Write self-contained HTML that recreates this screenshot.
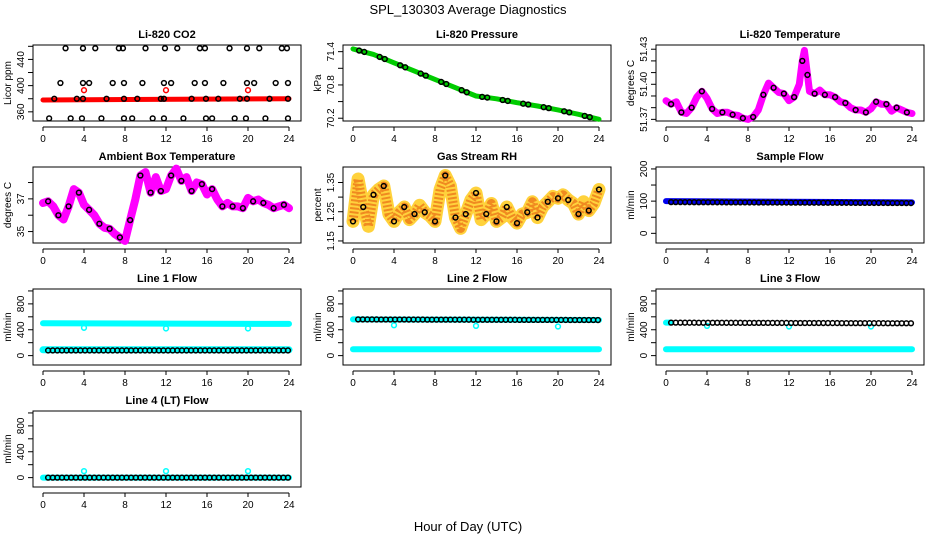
<!DOCTYPE html>
<html><head><meta charset="utf-8"><style>
body{margin:0;background:#fff}
svg{display:block;font-family:"Liberation Sans",sans-serif}
</style></head><body>
<svg id="c" width="936" height="540" viewBox="0 0 936 540">
<text x="468" y="14" text-anchor="middle" font-size="13">SPL_130303  Average Diagnostics</text>
<text x="468" y="531" text-anchor="middle" font-size="13">Hour of Day (UTC)</text>
</svg>
<script>
// ---- data ----
const xTicks=[0,4,8,12,16,20,24];
const co2Hi=[2.2,3.9,5.1,7.4,7.8,10.0,11.9,13.1,15.3,15.8,18.2,19.9,21.1,23.3,23.8];
const co2Mid=[1.7,3.9,4.5,6.8,7.9,9.7,11.8,12.5,14.8,15.8,17.6,19.9,20.6,22.7,23.9];
const co2Low=[1.1,3.3,3.9,6.2,7.9,9.2,11.5,11.8,14.5,15.9,17.1,19.2,19.9,22.1,23.9];
const co2Bot=[0.6,2.7,3.8,5.7,7.9,8.7,10.7,11.8,13.7,15.9,16.5,18.7,19.8,21.7,23.9];
const co2Levels=[457,404,380,350];
const co2RedHours=[0,24];
const co2RedVals=[378,380];
const calHours=[4,12,20];
const co2Cal=[393,393,393];
const presHours=[0,2,4,6,8,10,12,14,16,18,20,22,24];
const presVals=[71.45,71.35,71.2,71.05,70.9,70.75,70.6,70.55,70.48,70.42,70.35,70.27,70.18];
const tempHours=[0,0.5,1,1.5,2,2.5,3,3.5,4,4.5,5,5.5,6,6.5,7,7.5,8,8.5,9,9.5,10,10.5,11,11.5,12,12.5,13,13.3,13.5,13.8,14,14.5,15,15.5,16,16.5,17,17.5,18,18.5,19,19.5,20,20.5,21,21.5,22,22.5,23,23.5,24];
const tempVals=[51.386,51.383,51.385,51.376,51.375,51.38,51.389,51.394,51.388,51.379,51.375,51.376,51.376,51.374,51.3735,51.371,51.37,51.372,51.378,51.391,51.401,51.397,51.393,51.392,51.386,51.389,51.4,51.42,51.429,51.408,51.394,51.392,51.395,51.391,51.391,51.389,51.385,51.384,51.38,51.378,51.378,51.376,51.379,51.385,51.383,51.383,51.377,51.38,51.378,51.376,51.375];
const halfHours=[0,0.5,1,1.5,2,2.5,3,3.5,4,4.5,5,5.5,6,6.5,7,7.5,8,8.5,9,9.5,10,10.5,11,11.5,12,12.5,13,13.5,14,14.5,15,15.5,16,16.5,17,17.5,18,18.5,19,19.5,20,20.5,21,21.5,22,22.5,23,23.5,24];
const ambVals=[36.75,36.85,36.54,36.0,35.74,36.54,37.6,37.38,36.64,36.33,36.0,35.48,35.23,35.17,34.85,34.64,34.43,35.7,36.96,38.43,38.64,37.38,38.33,37.48,37.6,38.43,38.85,38.1,38.33,37.48,38.0,37.9,37.27,37.6,36.96,36.54,36.75,36.54,36.54,36.43,37.06,36.85,36.96,36.75,36.64,36.43,36.54,36.64,36.43];
const rhVals=[1.217,1.362,1.266,1.2,1.308,1.326,1.338,1.242,1.217,1.248,1.266,1.223,1.242,1.272,1.248,1.236,1.217,1.326,1.374,1.338,1.23,1.193,1.242,1.29,1.314,1.223,1.242,1.278,1.217,1.23,1.266,1.23,1.211,1.242,1.248,1.284,1.23,1.266,1.284,1.302,1.296,1.308,1.29,1.278,1.242,1.284,1.254,1.278,1.326];
const sampleVals=[100,96];
const line1Hi=[500,490];const line1Lo=[90,90];const line1Black=[80,80];const line1Cal=[430,420,420];
const line2Hi=[560,550];const line2Lo=[100,100];const line2Cal=[470,460,450];
const line3Hi=[510,500];const line3Lo=[100,100];const line3Cal=[460,450,450];
const line4Lo=[0,0];const line4Cal=[100,100,100];

// ---- helpers ----
const NS="http://www.w3.org/2000/svg",svg=document.getElementById('c');
function mk(tag,at,parent){const e=document.createElementNS(NS,tag);for(const k in at)e.setAttribute(k,at[k]);(parent||svg).appendChild(e);return e;}
const colL=[33,343,656],rowT=[45,167,289,411];const W=268,H=76;
function panel(col,row,title,ylab,ymin,ymax,ticks,labels,name){
  const L=colL[col],T=rowT[row];
  const g=mk('g',{});
  
  
  const x0=L+10,x1=L+256;
  const xs=h=>x0+h*(x1-x0)/24, ys=v=>T+H-(v-ymin)/(ymax-ymin)*H;
  const t=mk('text',{x:L+W/2,y:T-7,'text-anchor':'middle','font-size':11,'font-weight':'bold'},g);t.textContent=title;
  
  
  const b=mk('rect',{x:L,y:T,width:W,height:H,fill:'none',stroke:'#000','stroke-width':1},g);
  
  
  const xa=mk('g',{},g);
  
  
  mk('line',{x1:xs(0),x2:xs(24),y1:T+H+6,y2:T+H+6,stroke:'#000'},xa);
  xTicks.forEach(h=>{mk('line',{x1:xs(h),x2:xs(h),y1:T+H+6,y2:T+H+10,stroke:'#000'},xa);
    const tx=mk('text',{x:xs(h),y:T+H+21,'text-anchor':'middle','font-size':10},xa);tx.textContent=h;});
  const ya=mk('g',{},g);
  
  
  ticks.forEach((v,i)=>{const y=ys(v);mk('line',{x1:L-5,x2:L,y1:y,y2:y,stroke:'#000'},ya);
    if(labels[i]!==''){const tx=mk('text',{x:0,y:0,'text-anchor':'middle','font-size':10,transform:`translate(${L-9},${y}) rotate(-90)`},ya);tx.textContent=labels[i];}});
  const yl=mk('text',{x:0,y:0,'text-anchor':'middle','font-size':10,transform:`translate(${L-22},${T+H/2}) rotate(-90)`},g);yl.textContent=ylab;
  
  
  const clip=mk('g',{},g);
  return {g:clip,xs,ys};
}
function band(p,hs,vs,color,w,name,dash){
  const d=hs.map((h,i)=>(i?'L':'M')+p.xs(h).toFixed(1)+','+p.ys(vs[i]).toFixed(1)).join('');
  const at={d,fill:'none',stroke:color,'stroke-width':w,'stroke-linejoin':'round','stroke-linecap':'round'};
  if(dash){at['stroke-dasharray']=dash;at['stroke-linecap']='butt';}
  const e=mk('path',at,p.g);
  
  
}
function pts(p,hs,vs,color,name){
  const gg=mk('g',{},p.g);
  
  
  hs.forEach((h,i)=>mk('circle',{cx:p.xs(h),cy:p.ys(vs[i]),r:2.4,fill:'none',stroke:color,'stroke-width':1.5},gg));
}
function flatPts(p,v0,v1,color,name,step){
  const hs=[],vs=[];for(let h=0.5;h<=23.9;h+=step){hs.push(h);vs.push(v0+(v1-v0)*h/24);}
  pts(p,hs,vs,color,name);
}

// CO2
let p=panel(0,0,'Li-820 CO2','Licor ppm',346,462,[360,380,400,420,440,460],['360','','400','','440',''],'co2');
band(p,co2RedHours,co2RedVals,'#ff0000',5,'co2-red-band');
pts(p,calHours,co2Cal,'#ff0000','co2-red-outliers');
[co2Hi,co2Mid,co2Low,co2Bot].forEach((a,k)=>pts(p,a,a.map(()=>co2Levels[k]),'#000','co2-black-points-'+k));
// Pressure
p=panel(1,0,'Li-820 Pressure','kPa',70.15,71.52,[70.2,70.5,70.8,71.1,71.4],['70.2','','70.8','','71.4'],'pressure');
band(p,presHours,presVals,'#00cc00',5,'pressure-green-band');
pts(p,presHours.slice(0,-1).map(h=>h+0.6),presVals.slice(0,-1).map((v,i)=>v+(presVals[i+1]-v)*0.3),'#000','pressure-points');
pts(p,presHours.slice(1).map(h=>h-0.9),presVals.slice(1).map((v,i)=>v+(presVals[i]-v)*0.45),'#000','pressure-points-2');
// Temperature
p=panel(2,0,'Li-820 Temperature','degrees C',51.3686,51.4336,[51.37,51.38,51.39,51.40,51.41,51.42,51.43],['51.37','','','51.40','','','51.43'],'li820-temp');
band(p,tempHours,tempVals,'#ff00ff',7,'temp-magenta-band');
pts(p,tempHours.filter((h,i)=>i%2==1),tempVals.filter((v,i)=>i%2==1),'#000','temp-points');
// Ambient
p=panel(0,1,'Ambient Box Temperature','degrees C',34.3,38.95,[35,36,37,38],['35','','37',''],'ambient');
band(p,halfHours,ambVals,'#ff00ff',8,'ambient-magenta-band');
pts(p,halfHours.filter((h,i)=>i%2==1),ambVals.filter((v,i)=>i%2==1),'#000','ambient-points');
// RH
p=panel(1,1,'Gas Stream RH','percent',1.143,1.403,[1.15,1.20,1.25,1.30,1.35],['1.15','','1.25','','1.35'],'rh');
band(p,halfHours,rhVals,'#ffd23c',13,'rh-yellow-band');
band(p,halfHours,rhVals,'#f08a20',9,'rh-orange-speckle','2 2');
pts(p,halfHours.filter((h,i)=>i%2==0),rhVals.filter((v,i)=>i%2==0),'#000','rh-points');
// Sample flow
p=panel(2,1,'Sample Flow','ml/min',-30,206,[0,50,100,150,200],['0','','100','','200'],'sample-flow');
band(p,[0,24],sampleVals,'#0000ee',6,'sample-blue-band');
flatPts(p,sampleVals[0]-3,sampleVals[1]-2,'#000','sample-points',0.45);
// Line flows
const ft=[0,200,400,600,800,1000],fl=['0','','400','','800',''];
p=panel(0,2,'Line 1 Flow','ml/min',-145,1030,ft,fl,'line1');
band(p,[0,24],line1Hi,'#00ffff',6,'line1-cyan-high');band(p,[0,24],line1Lo,'#00ffff',7,'line1-cyan-low');
pts(p,calHours,line1Cal,'#00ffff','line1-cal');flatPts(p,line1Black[0],line1Black[1],'#000','line1-points',0.45);
p=panel(1,2,'Line 2 Flow','ml/min',-145,1030,ft,fl,'line2');
band(p,[0,24],line2Hi,'#00ffff',6,'line2-cyan-high');band(p,[0,24],line2Lo,'#00ffff',6,'line2-cyan-low');
pts(p,calHours,line2Cal,'#00ffff','line2-cal');flatPts(p,line2Hi[0],line2Hi[1],'#000','line2-points',0.45);
p=panel(2,2,'Line 3 Flow','ml/min',-145,1030,ft,fl,'line3');
band(p,[0,0.4],[line3Hi[0],line3Hi[0]],'#00ffff',6,'line3-cyan-high');band(p,[0,24],line3Lo,'#00ffff',6,'line3-cyan-low');
pts(p,calHours,line3Cal,'#00ffff','line3-cal');flatPts(p,line3Hi[0],line3Hi[1],'#000','line3-points',0.45);
p=panel(0,3,'Line 4 (LT) Flow','ml/min',-145,1030,ft,fl,'line4');
band(p,[0,24],line4Lo,'#00ffff',6,'line4-cyan-low');
pts(p,calHours,line4Cal,'#00ffff','line4-cal');flatPts(p,line4Lo[0],line4Lo[1],'#000','line4-points',0.45);
</script>
</body></html>
